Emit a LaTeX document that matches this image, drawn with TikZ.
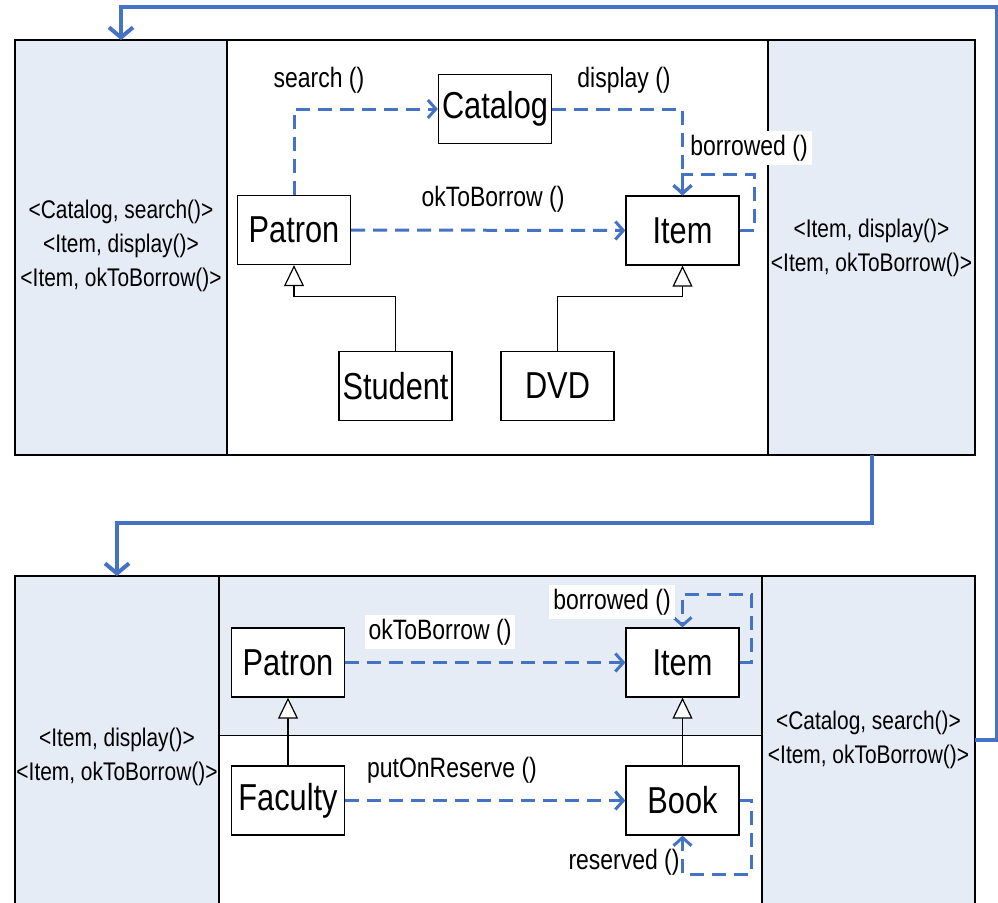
\documentclass[tikz,border=0pt]{standalone}
\usepackage{fontspec}
\setmainfont[FakeStretch=0.82]{Liberation Sans}
\usetikzlibrary{arrows.meta}
\definecolor{lane}{RGB}{230,236,246}
\definecolor{msgblue}{RGB}{68,114,196}
\begin{document}
\begin{tikzpicture}[x=1pt,y=-1pt,
  panel/.style={draw=black, line width=1.3pt, inner sep=0pt, outer sep=0pt},
  cls/.style={draw=black, fill=white, line width=1.3pt, inner sep=0pt,
    minimum width=113pt, minimum height=69pt, font=\fontsize{37.5}{40}\selectfont},
  lbl/.style={inner sep=4pt, font=\fontsize{28}{30}\selectfont},
  side/.style={align=center, font=\fontsize{25.5}{34}\selectfont},
  msg/.style={draw=msgblue, line width=3pt, dash pattern=on 14pt off 8pt,
    -{Straight Barb[length=8pt,width=18pt]}},
  inh/.style={draw=black, line width=1.2pt,
    -{Triangle[open,fill=white,length=21pt,width=20pt]}},
  flow/.style={draw=msgblue, line width=4pt, -{Straight Barb[length=10pt,width=24pt]}},
]
\useasboundingbox (0,0) rectangle (998,902);
\clip (0,0) rectangle (998,902);

% ---- upper panel ----
\node[panel, fill=lane,  minimum width=212pt, minimum height=415pt] (tl) at (121,247.5) {};
\node[panel, fill=white, minimum width=541pt, minimum height=415pt] (tm) at (497.5,247.5) {};
\node[panel, fill=lane,  minimum width=207pt, minimum height=415pt] (tr) at (871.5,247.5) {};

% ---- lower panel ----
\node[panel, fill=lane,  minimum width=204pt, minimum height=328pt] (bl) at (117,740) {};
\node[panel, fill=lane,  minimum width=543pt, minimum height=159.5pt] (bmu) at (490.5,655.75) {};
\node[panel, fill=white, minimum width=543pt, minimum height=168.5pt] (bml) at (490.5,819.75) {};
\node[panel, fill=lane,  minimum width=213pt, minimum height=328pt] (br) at (868.5,740) {};

% ---- side texts ----
\node[side] (tltext) at (121,246) {<Catalog, search()>\\<Item, display()>\\<Item, okToBorrow()>};
\node[side] (trtext) at (871.5,248) {<Item, display()>\\<Item, okToBorrow()>};
\node[side] (bltext) at (117,757) {<Item, display()>\\<Item, okToBorrow()>};
\node[side] (brtext) at (868.5,740) {<Catalog, search()>\\<Item, okToBorrow()>};

% ---- flow between panels ----
\coordinate (c1) at (997,7);
\draw[flow] (br.east) -| (c1) -| (tl.north);
\draw[flow] (tr.south) -- ++(0,68) -| (bl.north);

% ---- upper classes ----
\node[cls] (catalog) at (495,109) {Catalog};
\node[cls] (patron) at (294,230) {Patron};
\node[cls] (item) at (682.5,230.5) {Item};
\node[cls] (student) at (395.5,386) {Student};
\node[cls] (dvd) at (557.5,386) {DVD};

\draw[inh] (student.north) -- ++(0,-54) -| (patron.south);
\draw[inh] (dvd.north) -- ++(0,-54) -| (item.south);

\coordinate (la) at (754,174);
\draw[msg] (patron.north) |- (catalog.west);
\draw[msg] (catalog.east) -| (item.north);
\draw[msg] (item.east) -| (la) -| (item.north);
\draw[msg] (patron.east) -- (item.west);

\node[lbl] (lsearch) at (319,80) {search ()};
\node[lbl] (ldisplay) at (624,80) {display ()};
\node[lbl, fill=white] (lborrow) at (749,148) {borrowed ()};
\node[lbl] (lok) at (493,199) {okToBorrow ()};

% ---- lower classes ----
\node[cls] (patron2) at (288,662.5) {Patron};
\node[cls] (faculty) at (288,800.5) {Faculty};
\node[cls] (item2) at (682.5,662.5) {Item};
\node[cls] (book) at (682.5,800.5) {Book};

\draw[inh] (faculty.north) -- (patron2.south);
\draw[inh] (book.north) -- (item2.south);

\coordinate (lb) at (751,594);
\coordinate (lr) at (751,874);
\draw[msg] (patron2.east) -- (item2.west);
\draw[msg] (faculty.east) -- (book.west);
\draw[msg] (item2.east) -| (lb) -| (item2.north);
\draw[msg] (book.east) -| (lr) -| (book.south);

\node[lbl, fill=white] (lok2) at (440,632) {okToBorrow ()};
\node[lbl, fill=white] (lborrow2) at (612,602) {borrowed ()};
\node[lbl] (lreserve) at (452,770) {putOnReserve ()};
\node[lbl] (lreserved) at (624,862) {reserved ()};
\end{tikzpicture}
\end{document}
